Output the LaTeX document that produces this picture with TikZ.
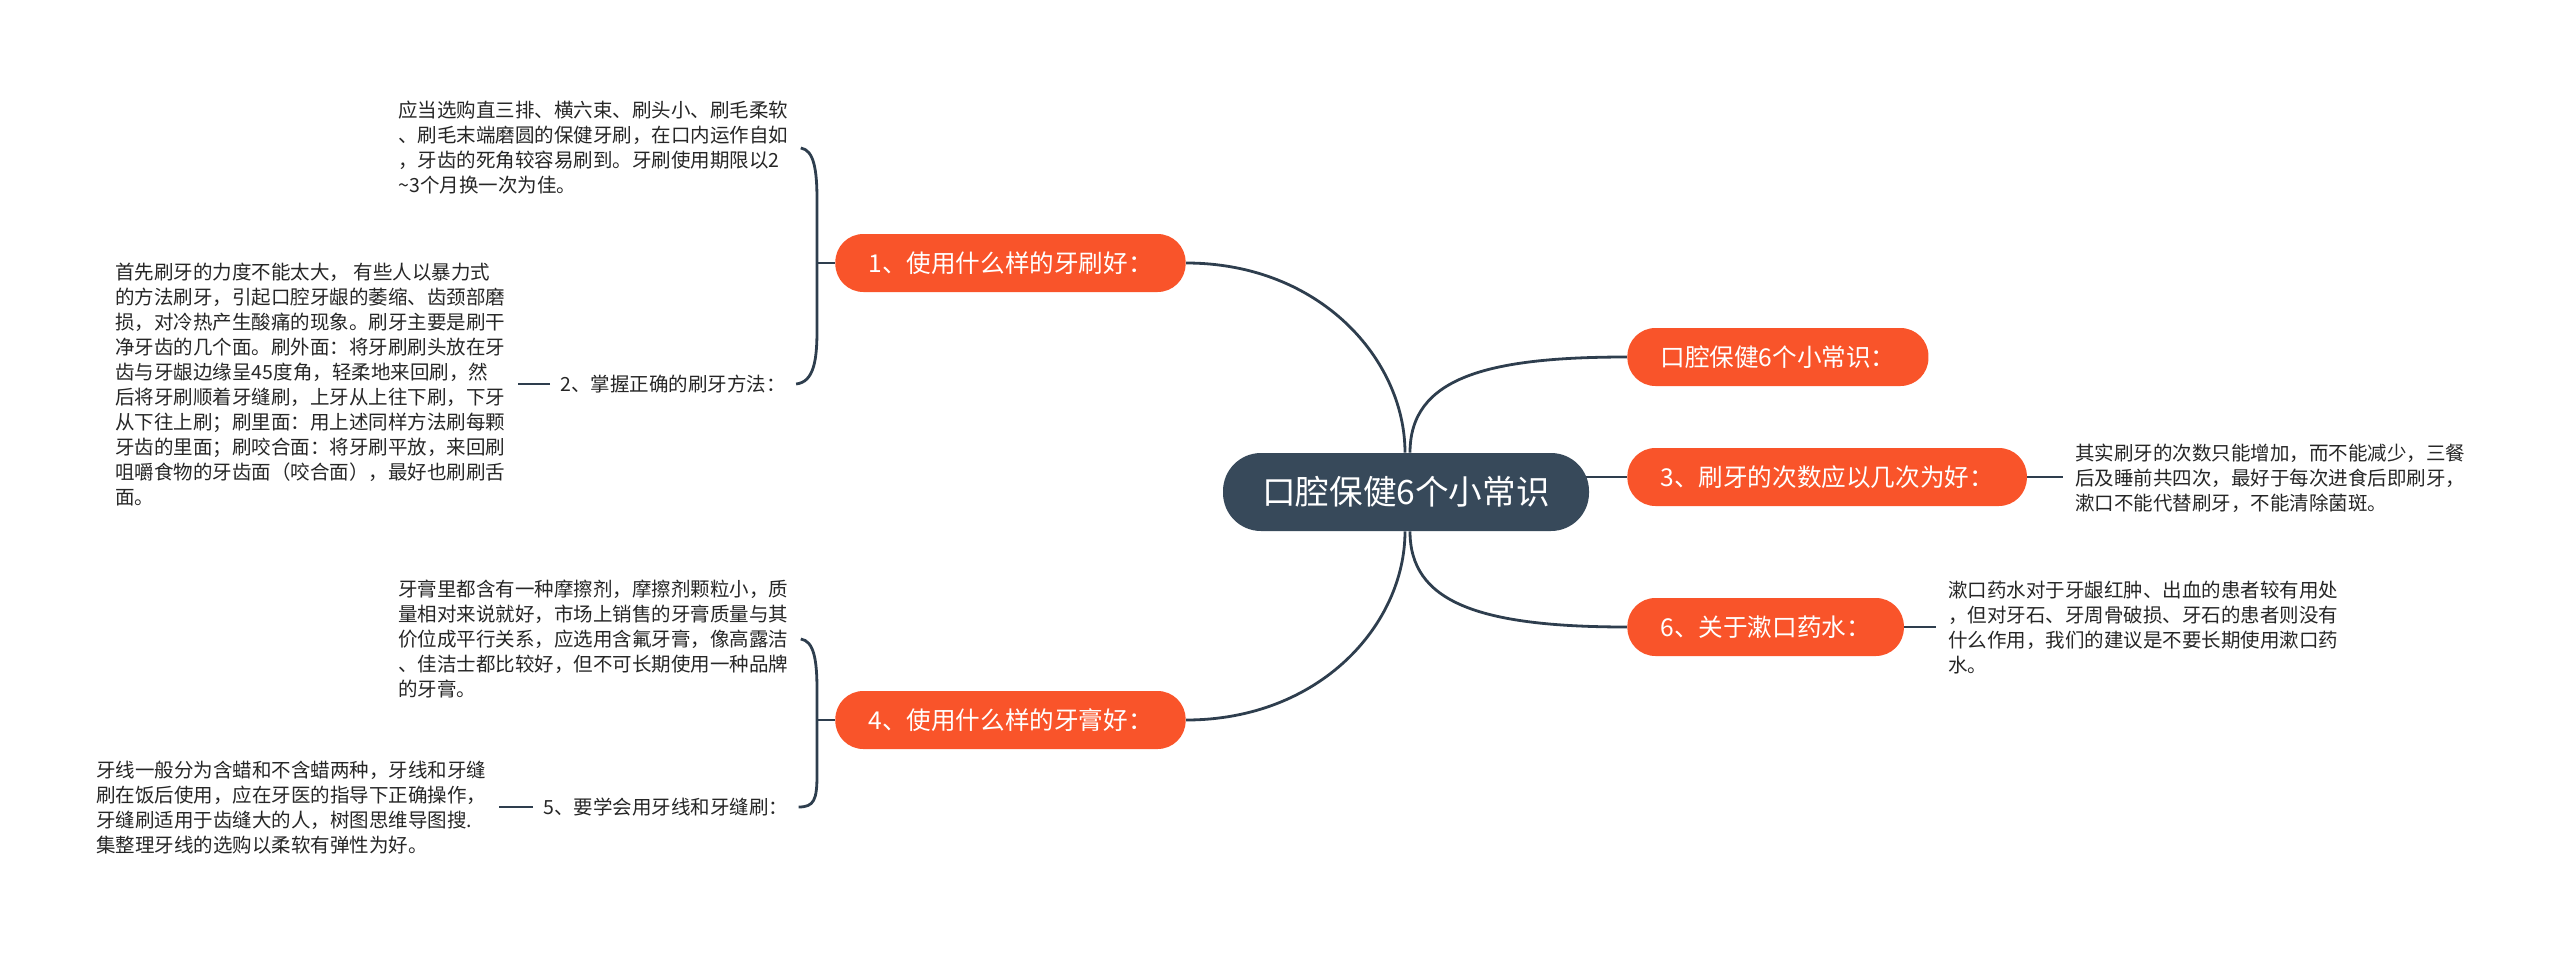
\documentclass[tikz,border=0pt]{standalone}
\usepackage{fontspec}
\setmainfont{Noto Sans CJK SC}
\usetikzlibrary{backgrounds}
\definecolor{chengse}{HTML}{F9542A}
\definecolor{zhuse}{HTML}{37495A}
\definecolor{xianse}{HTML}{2E3E4E}
\definecolor{zise}{HTML}{262626}
\begin{document}
\begin{tikzpicture}[x=0.5pt, y=-0.5pt,
    hub/.style={rectangle, rounded corners=19pt, fill=zhuse, text=white,
      minimum width=183pt, minimum height=39pt, inner sep=0pt,
      font=\fontsize{16.8}{20}\selectfont},
    topic/.style={rectangle, rounded corners=14pt, fill=chengse, text=white,
      minimum height=29pt, inner xsep=16.5pt, inner ysep=0pt,
      font=\fontsize{12.3}{15}\selectfont},
    note/.style={align=left, inner xsep=6pt, inner ysep=0pt, text=zise,
      font=\fontsize{9.75}{12.5}\selectfont},
    sub/.style={inner xsep=5pt, inner ysep=0pt, text=zise,
      font=\fontsize{9.75}{12.5}\selectfont},
    link/.style={draw=xianse, line width=1.4pt}]
  \useasboundingbox (0,0) rectangle (2560,953);
  \node[hub] (c) at (1406,492) {口腔保健6个小常识};
  \node[topic, anchor=east] (n1) at (1186,263) {1、使用什么样的牙刷好：};
  \node[topic, anchor=east] (n4) at (1186,720) {4、使用什么样的牙膏好：};
  \node[topic, anchor=west] (r0) at (1627,357) {口腔保健6个小常识：};
  \node[topic, anchor=west] (r3) at (1627,477) {3、刷牙的次数应以几次为好：};
  \node[topic, anchor=west] (r6) at (1627,627) {6、关于漱口药水：};
  % left side
  \node[note, anchor=west] (t1) at (386,148)
    {应当选购直三排、横六束、刷头小、刷毛柔软\\
     、刷毛末端磨圆的保健牙刷，在口内运作自如\\
     ，牙齿的死角较容易刷到。牙刷使用期限以2\\
     \textasciitilde3个月换一次为佳。};
  \node[sub, anchor=west] (l2) at (550,384) {2、掌握正确的刷牙方法：};
  \node[note, anchor=west] (t2) at (103,385)
    {首先刷牙的力度不能太大， 有些人以暴力式\\
     的方法刷牙，引起口腔牙龈的萎缩、齿颈部磨\\
     损，对冷热产生酸痛的现象。刷牙主要是刷干\\
     净牙齿的几个面。刷外面：将牙刷刷头放在牙\\
     齿与牙龈边缘呈45度角，轻柔地来回刷，然\\
     后将牙刷顺着牙缝刷，上牙从上往下刷，下牙\\
     从下往上刷；刷里面：用上述同样方法刷每颗\\
     牙齿的里面；刷咬合面：将牙刷平放，来回刷\\
     咀嚼食物的牙齿面（咬合面），最好也刷刷舌\\
     面。};
  \node[note, anchor=west] (t4) at (386,639)
    {牙膏里都含有一种摩擦剂，摩擦剂颗粒小，质\\
     量相对来说就好，市场上销售的牙膏质量与其\\
     价位成平行关系，应选用含氟牙膏，像高露洁\\
     、佳洁士都比较好，但不可长期使用一种品牌\\
     的牙膏。};
  \node[sub, anchor=west] (l5) at (533,807) {5、要学会用牙线和牙缝刷：};
  \node[note, anchor=west] (t5) at (84,808)
    {牙线一般分为含蜡和不含蜡两种，牙线和牙缝\\
     刷在饭后使用，应在牙医的指导下正确操作，\\
     牙缝刷适用于齿缝大的人，树图思维导图搜.\\
     集整理牙线的选购以柔软有弹性为好。};
  % right side
  \node[note, anchor=west] (t3) at (2063,478)
    {其实刷牙的次数只能增加，而不能减少，三餐\\
     后及睡前共四次，最好于每次进食后即刷牙，\\
     漱口不能代替刷牙，不能清除菌斑。};
  \node[note, anchor=west] (t6) at (1936,628)
    {漱口药水对于牙龈红肿、出血的患者较有用处\\
     ，但对牙石、牙周骨破损、牙石的患者则没有\\
     什么作用，我们的建议是不要长期使用漱口药\\
     水。};
  \coordinate (j1) at (817,263);
  \coordinate (j4) at (817,720);
  \begin{scope}[on background layer]
    \draw[link] ([xshift=-0.5pt]c.north) .. controls +(0,-93) and +(134,0) .. (n1.east);
    \draw[link] ([xshift=2pt]c.north) .. controls +(0,-75) and +(-140,0) .. (r0.west);
    \draw[link] (c.center |- r3.west) -- (r3.west);
    \draw[link] ([xshift=2pt]c.south) .. controls +(0,70) and +(-150,0) .. (r6.west);
    \draw[link] ([xshift=-0.5pt]c.south) .. controls +(0,93) and +(134,0) .. (n4.east);
  \end{scope}
  \draw[link] (t1.east) .. controls (814,150) and (817,170) .. (817,200)
    -- (817,330) .. controls (817,360) and (814,382) .. (l2.east);
  \draw[link] (n1.west) -- (j1);
  \draw[link] (t4.east) .. controls (814,641) and (817,660) .. (817,690)
    -- (817,775) .. controls (817,800) and (814,807) .. (l5.east);
  \draw[link] (n4.west) -- (j4);
  \draw[link] (l2.west) -- (t2.east |- l2.west);
  \draw[link] (l5.west) -- (t5.east |- l5.west);
  \draw[link] (r3.east) -- (t3.west |- r3.east);
  \draw[link] (r6.east) -- (t6.west |- r6.east);
\end{tikzpicture}
\end{document}
